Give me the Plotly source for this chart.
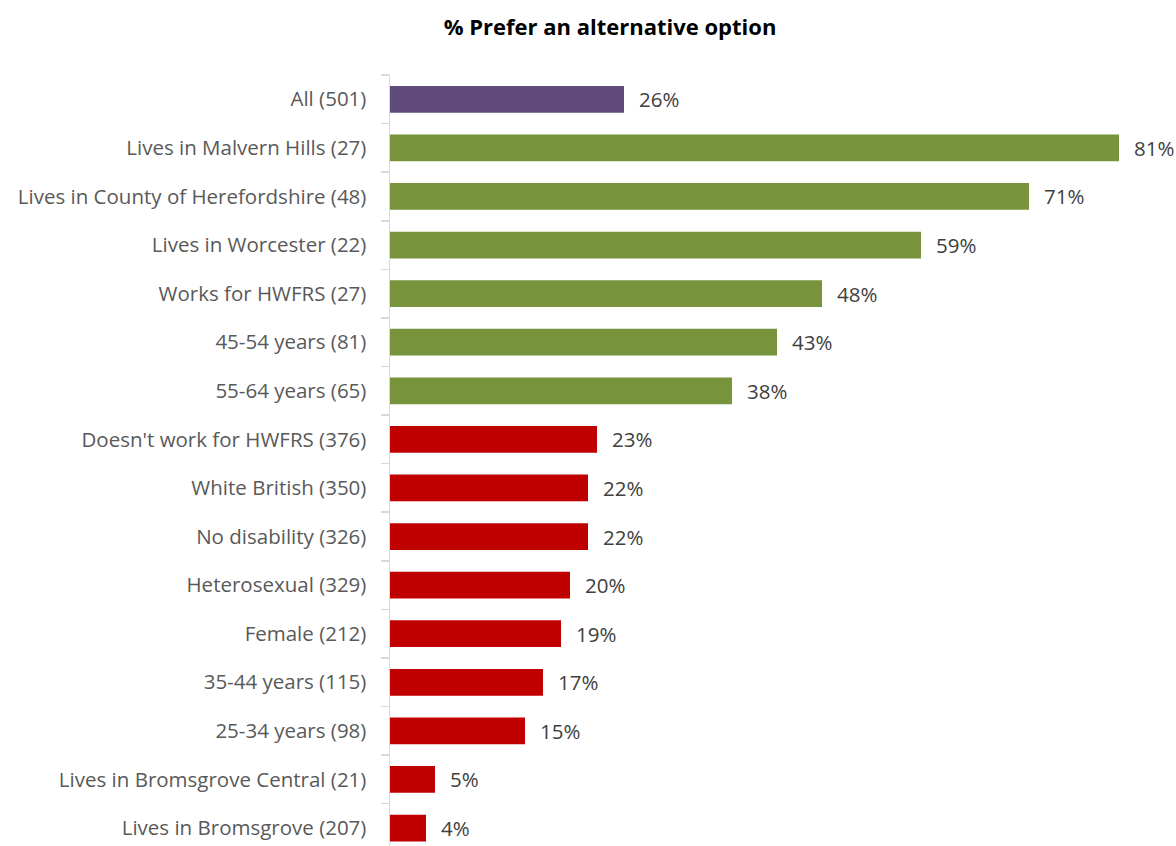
import plotly.graph_objects as go

categories = [
    "All (501)",
    "Lives in Malvern Hills (27)",
    "Lives in County of Herefordshire (48)",
    "Lives in Worcester (22)",
    "Works for HWFRS (27)",
    "45-54 years (81)",
    "55-64 years (65)",
    "Doesn't work for HWFRS (376)",
    "White British (350)",
    "No disability (326)",
    "Heterosexual (329)",
    "Female (212)",
    "35-44 years (115)",
    "25-34 years (98)",
    "Lives in Bromsgrove Central (21)",
    "Lives in Bromsgrove (207)",
]
values = [26, 81, 71, 59, 48, 43, 38, 23, 22, 22, 20, 19, 17, 15, 5, 4]
groups = ["all"] + ["high"] * 6 + ["low"] * 9

color_map = {"all": "#604A7B", "high": "#77933C", "low": "#C00000"}
colors = [color_map[g] for g in groups]

FONT = "'Open Sans', sans-serif"

fig = go.Figure()
fig.add_trace(go.Bar(
    x=values, y=categories, orientation="h",
    marker=dict(color=colors, line=dict(width=0)),
    width=0.55,
    hoverinfo="skip",
))

for c, v in zip(categories, values):
    fig.add_annotation(
        x=v, y=c, xref="x", yref="y", text=f"{v}%",
        showarrow=False, xanchor="left", xshift=13,
        font=dict(family=FONT, size=20.5, color="#404040"),
    )

W, H = 1176, 846
L, R = 390, 2
fig.update_layout(
    width=W, height=H,
    margin=dict(l=L, r=R, t=75, b=0),
    paper_bgcolor="white", plot_bgcolor="white",
    showlegend=False,
    bargap=0.45,
    title=dict(
        text="<b>% Prefer an alternative option</b>",
        x=610 / W, xref="container", xanchor="center",
        y=1 - 27 / H, yref="container", yanchor="middle",
        font=dict(family=FONT, size=22, color="#000000"),
    ),
    font=dict(family=FONT, size=20.5, color="#595959"),
)
fig.update_xaxes(
    range=[0, (W - L - R) / 9.0], visible=False, showgrid=False, zeroline=False,
)
fig.update_yaxes(
    type="category", categoryorder="array", categoryarray=categories,
    range=[15.37, -0.5],
    showline=True, linecolor="#D9D9D9", linewidth=1.5,
    ticks="outside", tickson="boundaries", ticklen=8, tickcolor="#D9D9D9",
    tickwidth=1.5,
    ticklabelstandoff=18,
    tickfont=dict(family=FONT, size=20.5, color="#595959"),
    showgrid=False, zeroline=False,
)

fig.write_html(
    "out.html",
    config={"displayModeBar": False, "staticPlot": True},
    post_script="document.body.style.margin='0';document.body.style.overflow='hidden';",
)
